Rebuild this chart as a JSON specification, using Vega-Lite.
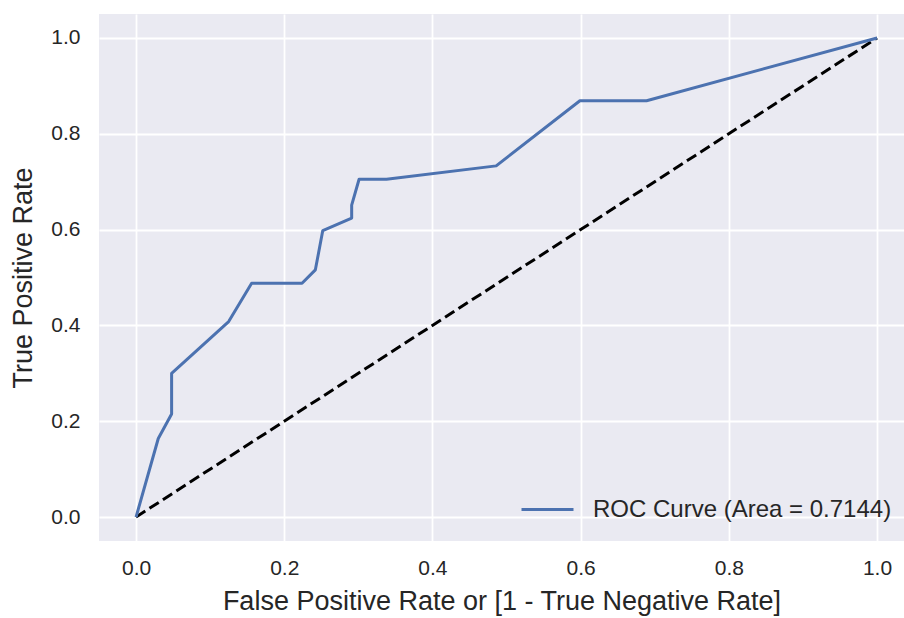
{
  "$schema": "https://vega.github.io/schema/vega-lite/v6.json",
  "width": 805,
  "height": 527,
  "autosize": {"type": "none"},
  "padding": {"left": 99, "top": 14, "right": 0, "bottom": 77},
  "background": "white",
  "config": {
    "view": {"fill": "#EAEAF2", "stroke": null},
    "font": "Liberation Sans",
    "axis": {
      "grid": true,
      "gridColor": "white",
      "gridWidth": 1.8,
      "domain": false,
      "ticks": false,
      "tickSize": 0,
      "labelFont": "Liberation Sans",
      "labelFontSize": 21,
      "labelColor": "#262626",
      "titleFont": "Liberation Sans",
      "titleFontSize": 27,
      "titleFontWeight": "normal",
      "titleColor": "#262626"
    }
  },
  "datasets": {
    "roc": [
      {"fpr": 0.0, "tpr": 0.0, "series": "ROC Curve (Area = 0.7144)"},
      {"fpr": 0.03, "tpr": 0.164, "series": "ROC Curve (Area = 0.7144)"},
      {"fpr": 0.048, "tpr": 0.215, "series": "ROC Curve (Area = 0.7144)"},
      {"fpr": 0.048, "tpr": 0.3, "series": "ROC Curve (Area = 0.7144)"},
      {"fpr": 0.125, "tpr": 0.408, "series": "ROC Curve (Area = 0.7144)"},
      {"fpr": 0.156, "tpr": 0.488, "series": "ROC Curve (Area = 0.7144)"},
      {"fpr": 0.224, "tpr": 0.488, "series": "ROC Curve (Area = 0.7144)"},
      {"fpr": 0.242, "tpr": 0.516, "series": "ROC Curve (Area = 0.7144)"},
      {"fpr": 0.252, "tpr": 0.598, "series": "ROC Curve (Area = 0.7144)"},
      {"fpr": 0.291, "tpr": 0.624, "series": "ROC Curve (Area = 0.7144)"},
      {"fpr": 0.291, "tpr": 0.651, "series": "ROC Curve (Area = 0.7144)"},
      {"fpr": 0.301, "tpr": 0.705, "series": "ROC Curve (Area = 0.7144)"},
      {"fpr": 0.338, "tpr": 0.705, "series": "ROC Curve (Area = 0.7144)"},
      {"fpr": 0.486, "tpr": 0.733, "series": "ROC Curve (Area = 0.7144)"},
      {"fpr": 0.599, "tpr": 0.869, "series": "ROC Curve (Area = 0.7144)"},
      {"fpr": 0.689, "tpr": 0.869, "series": "ROC Curve (Area = 0.7144)"},
      {"fpr": 1.0, "tpr": 1.0, "series": "ROC Curve (Area = 0.7144)"}
    ],
    "diag": [
      {"fpr": 0.0, "tpr": 0.0},
      {"fpr": 1.0, "tpr": 1.0}
    ]
  },
  "layer": [
    {
      "data": {"name": "diag"},
      "mark": {"type": "line", "color": "black", "strokeWidth": 3, "strokeDash": [11, 5], "strokeCap": "butt"},
      "encoding": {
        "x": {"field": "fpr", "type": "quantitative"},
        "y": {"field": "tpr", "type": "quantitative"}
      }
    },
    {
      "data": {"name": "roc"},
      "mark": {"type": "line", "strokeWidth": 3, "strokeJoin": "round"},
      "encoding": {
        "x": {
          "field": "fpr",
          "type": "quantitative",
          "scale": {"domain": [-0.05, 1.0364], "nice": false, "zero": false},
          "axis": {"values": [0, 0.2, 0.4, 0.6, 0.8, 1.0], "format": ".1f", "labelPadding": 16, "title": "False Positive Rate or [1 - True Negative Rate]", "titlePadding": 10}
        },
        "y": {
          "field": "tpr",
          "type": "quantitative",
          "scale": {"domain": [-0.05, 1.05], "nice": false, "zero": false},
          "axis": {"values": [0, 0.2, 0.4, 0.6, 0.8, 1.0], "format": ".1f", "labelPadding": 19, "title": "True Positive Rate", "titlePadding": 13}
        },
        "color": {
          "field": "series",
          "type": "nominal",
          "scale": {"range": ["#4C72B0"]},
          "legend": {
            "title": null,
            "orient": "none",
            "legendX": 421,
            "legendY": 468,
            "padding": 0,
            "symbolType": "stroke",
            "symbolSize": 2704,
            "symbolStrokeWidth": 3,
            "labelFont": "Liberation Sans",
            "labelFontSize": 24,
            "labelColor": "#262626",
            "labelOffset": 18,
            "labelLimit": 500
          }
        }
      }
    }
  ]
}
